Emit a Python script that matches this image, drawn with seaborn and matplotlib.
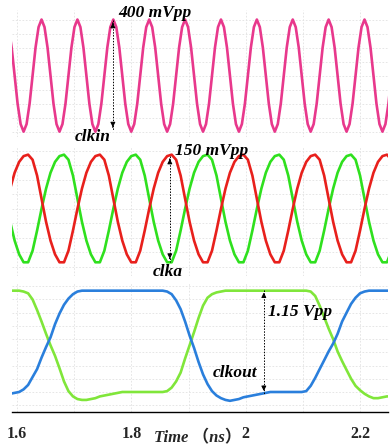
import matplotlib
matplotlib.use('Agg')
import matplotlib.pyplot as plt
from matplotlib.ticker import MultipleLocator
import pandas as pd
import seaborn as sns

# sample times (ns) for clkin, 12 samples per input clock period
clkin_time_ns = [1.5799, 1.5851, 1.5904, 1.5956, 1.6008, 1.6061, 1.6113, 1.6165, 1.6218, 1.6270, 1.6322, 1.6375,
                 1.6427, 1.6479, 1.6532, 1.6584, 1.6636, 1.6689, 1.6741, 1.6793, 1.6846, 1.6898, 1.6950, 1.7003,
                 1.7055, 1.7107, 1.7160, 1.7212, 1.7264, 1.7317, 1.7369, 1.7421, 1.7474, 1.7526, 1.7578, 1.7631,
                 1.7683, 1.7735, 1.7788, 1.7840, 1.7892, 1.7945, 1.7997, 1.8049, 1.8102, 1.8154, 1.8206, 1.8259,
                 1.8311, 1.8363, 1.8416, 1.8468, 1.8520, 1.8573, 1.8625, 1.8677, 1.8730, 1.8782, 1.8834, 1.8887,
                 1.8939, 1.8991, 1.9044, 1.9096, 1.9148, 1.9201, 1.9253, 1.9305, 1.9358, 1.9410, 1.9462, 1.9515,
                 1.9567, 1.9619, 1.9672, 1.9724, 1.9776, 1.9829, 1.9881, 1.9933, 1.9986, 2.0038, 2.0090, 2.0143,
                 2.0195, 2.0247, 2.0300, 2.0352, 2.0404, 2.0457, 2.0509, 2.0561, 2.0614, 2.0666, 2.0718, 2.0771,
                 2.0823, 2.0875, 2.0928, 2.0980, 2.1032, 2.1085, 2.1137, 2.1189, 2.1242, 2.1294, 2.1346, 2.1399,
                 2.1451, 2.1503, 2.1556, 2.1608, 2.1660, 2.1713, 2.1765, 2.1817, 2.1870, 2.1922, 2.1974, 2.2027,
                 2.2079, 2.2131, 2.2184, 2.2236, 2.2288, 2.2341, 2.2393, 2.2445, 2.2498, 2.2550]

# clkin, mV
clkin_mv = [200, 173, 100, 0, -100, -173, -200, -173, -100, 0, 100, 173,
            200, 173, 100, 0, -100, -173, -200, -173, -100, 0, 100, 173,
            200, 173, 100, 0, -100, -173, -200, -173, -100, 0, 100, 173,
            200, 173, 100, 0, -100, -173, -200, -173, -100, 0, 100, 173,
            200, 173, 100, 0, -100, -173, -200, -173, -100, 0, 100, 173,
            200, 173, 100, 0, -100, -173, -200, -173, -100, 0, 100, 173,
            200, 173, 100, 0, -100, -173, -200, -173, -100, 0, 100, 173,
            200, 173, 100, 0, -100, -173, -200, -173, -100, 0, 100, 173,
            200, 173, 100, 0, -100, -173, -200, -173, -100, 0, 100, 173,
            200, 173, 100, 0, -100, -173, -200, -173, -100, 0, 100, 173,
            200, 173, 100, 0, -100, -173, -200, -173, -100, 0]

# sample times (ns) for clka / clkout, 8 samples per input clock period
time_ns = [1.5799, 1.5878, 1.5956, 1.6035, 1.6113, 1.6192, 1.6270, 1.6349,
           1.6427, 1.6506, 1.6584, 1.6663, 1.6741, 1.6820, 1.6898, 1.6977,
           1.7055, 1.7134, 1.7212, 1.7291, 1.7369, 1.7448, 1.7526, 1.7605,
           1.7683, 1.7762, 1.7840, 1.7919, 1.7997, 1.8076, 1.8154, 1.8233,
           1.8311, 1.8390, 1.8468, 1.8547, 1.8625, 1.8704, 1.8782, 1.8861,
           1.8939, 1.9018, 1.9096, 1.9175, 1.9253, 1.9332, 1.9410, 1.9489,
           1.9567, 1.9646, 1.9724, 1.9803, 1.9881, 1.9960, 2.0038, 2.0117,
           2.0195, 2.0274, 2.0352, 2.0431, 2.0509, 2.0588, 2.0666, 2.0745,
           2.0823, 2.0902, 2.0980, 2.1059, 2.1137, 2.1216, 2.1294, 2.1373,
           2.1451, 2.1530, 2.1608, 2.1687, 2.1765, 2.1844, 2.1922, 2.2001,
           2.2079, 2.2158, 2.2236, 2.2315, 2.2393, 2.2472, 2.2550]

# clka pair, mV
clka_p_mv = [0, 28, 50, 65, 73, 75, 68, 46, 14, -18, -44, -63, -74, -74, -58, -30,
             0, 28, 50, 65, 73, 75, 68, 46, 14, -18, -44, -63, -74, -74, -58, -30,
             0, 28, 50, 65, 73, 75, 68, 46, 14, -18, -44, -63, -74, -74, -58, -30,
             0, 28, 50, 65, 73, 75, 68, 46, 14, -18, -44, -63, -74, -74, -58, -30,
             0, 28, 50, 65, 73, 75, 68, 46, 14, -18, -44, -63, -74, -74, -58, -30,
             0, 28, 50, 65, 73, 75, 68]
clka_n_mv = [14, -18, -44, -63, -74, -74, -58, -30, 0, 28, 50, 65, 73, 75, 68, 46,
             14, -18, -44, -63, -74, -74, -58, -30, 0, 28, 50, 65, 73, 75, 68, 46,
             14, -18, -44, -63, -74, -74, -58, -30, 0, 28, 50, 65, 73, 75, 68, 46,
             14, -18, -44, -63, -74, -74, -58, -30, 0, 28, 50, 65, 73, 75, 68, 46,
             14, -18, -44, -63, -74, -74, -58, -30, 0, 28, 50, 65, 73, 75, 68, 46,
             14, -18, -44, -63, -74, -74, -58]

# clkout pair, V
clkout_n_v = [1.15, 1.15, 1.15, 1.15, 1.14, 1.12, 1.05, 0.93,
              0.80, 0.66, 0.53, 0.41, 0.27, 0.12, 0.01, -0.05,
              -0.08, -0.09, -0.09, -0.08, -0.07, -0.05, -0.04, -0.03,
              -0.02, -0.01, 0.0, 0.0, 0.0, 0.0, 0.0, 0.0,
              0.0, 0.0, 0.0, 0.0, 0.01, 0.05, 0.12, 0.22,
              0.38, 0.53, 0.68, 0.84, 0.98, 1.07, 1.11, 1.13,
              1.14, 1.15, 1.15, 1.15, 1.15, 1.15, 1.15, 1.15,
              1.15, 1.15, 1.15, 1.15, 1.15, 1.15, 1.15, 1.15,
              1.15, 1.15, 1.15, 1.15, 1.14, 1.09, 0.98, 0.85,
              0.72, 0.60, 0.46, 0.35, 0.25, 0.15, 0.07, 0.02,
              -0.02, -0.05, -0.07, -0.07, -0.06, -0.05, -0.05]
clkout_p_v = [-0.02, -0.02, -0.01, 0.0, 0.03, 0.08, 0.17, 0.26,
              0.39, 0.51, 0.62, 0.77, 0.89, 0.99, 1.06, 1.11,
              1.14, 1.15, 1.15, 1.15, 1.15, 1.15, 1.15, 1.15,
              1.15, 1.15, 1.15, 1.15, 1.15, 1.15, 1.15, 1.15,
              1.15, 1.15, 1.15, 1.15, 1.14, 1.11, 1.04, 0.94,
              0.80, 0.64, 0.50, 0.34, 0.20, 0.09, 0.01, -0.04,
              -0.07, -0.09, -0.10, -0.09, -0.08, -0.06, -0.05, -0.04,
              -0.03, -0.02, -0.01, 0.0, 0.0, 0.0, 0.0, 0.0,
              0.0, 0.0, 0.0, 0.01, 0.07, 0.16, 0.26, 0.36,
              0.46, 0.55, 0.66, 0.80, 0.90, 1.00, 1.07, 1.12,
              1.14, 1.15, 1.15, 1.15, 1.15, 1.15, 1.15]

xtick_vals = [1.6, 1.8, 2.0, 2.2]
xtick_labels = ['1.6', '1.8', '2', '2.2']

sns.set_theme(style='white')
plt.rcParams['font.family'] = ['Liberation Serif', 'Noto Sans CJK SC', 'DejaVu Sans']

df_in = pd.DataFrame({'t': clkin_time_ns, 'clkin': clkin_mv})
df = pd.DataFrame({'t': time_ns, 'clka_p': clka_p_mv, 'clka_n': clka_n_mv,
                   'clkout_p': clkout_p_v, 'clkout_n': clkout_n_v})

LW = 1.9
line_kw = dict(lw=LW, solid_joinstyle='round', solid_capstyle='round')
label_font = dict(fontsize=12.5, fontweight='bold', fontstyle='italic', color='black')


def style_panel(ax, ylim, ystep):
    ax.set_xlim(1.591, 2.249)
    ax.set_ylim(*ylim)
    ax.xaxis.set_major_locator(MultipleLocator(0.2))
    ax.xaxis.set_minor_locator(MultipleLocator(0.1))
    ax.yaxis.set_major_locator(MultipleLocator(ystep))
    ax.grid(True, which='both', color='#e2e2e2', lw=0.6, ls=(0, (2, 2)))
    ax.tick_params(axis='both', which='both', length=0, labelbottom=False, labelleft=False)
    for s in ax.spines.values():
        s.set_visible(False)
    ax.set_xlabel('')
    ax.set_ylabel('')


def vpp_arrow(ax, x, y_top, y_bot, head):
    ax.plot([x, x], [y_top, y_bot], color='black', lw=0.7, ls=(0, (1.5, 1.5)))
    ax.annotate('', xy=(x, y_top), xytext=(x, y_top - head),
                arrowprops=dict(arrowstyle='-|>', color='black', lw=0.7, mutation_scale=7))
    ax.annotate('', xy=(x, y_bot), xytext=(x, y_bot + head),
                arrowprops=dict(arrowstyle='-|>', color='black', lw=0.7, mutation_scale=7))


fig = plt.figure(figsize=(3.92, 4.46), dpi=100)
left, width = 12 / 392, 376 / 392

# top: clkin
ax1 = fig.add_axes([left, 1 - 137 / 446, width, 127 / 446])
sns.lineplot(data=df_in, x='t', y='clkin', ax=ax1, color='#e8388c', **line_kw)
style_panel(ax1, (-219, 234), 50)
vpp_arrow(ax1, 1.7675, 198, -194, 20)
ax1.text(1.7762, 223, '400 mVpp', ha='left', va='center', clip_on=False, **label_font)
ax1.text(1.7325, -219, 'clkin', ha='center', va='center', clip_on=False, **label_font)

# middle: clka
ax2 = fig.add_axes([left, 1 - 276 / 446, width, 130 / 446])
sns.lineplot(data=df, x='t', y='clka_n', ax=ax2, color='#2fe01e', **line_kw)
sns.lineplot(data=df, x='t', y='clka_p', ax=ax2, color='#e8201c', **line_kw)
style_panel(ax2, (-93, 87), 20)
vpp_arrow(ax2, 1.8672, 73, -73, 8)
ax2.text(1.876, 80, '150 mVpp', ha='left', va='center', clip_on=False, **label_font)
ax2.text(1.8628, -87, 'clka', ha='center', va='center', clip_on=False, **label_font)

# bottom: clkout
ax3 = fig.add_axes([left, 1 - 412 / 446, width, 129 / 446])
sns.lineplot(data=df, x='t', y='clkout_n', ax=ax3, color='#80e63a', **line_kw)
sns.lineplot(data=df, x='t', y='clkout_p', ax=ax3, color='#2a7fdc', **line_kw)
style_panel(ax3, (-0.227, 1.237), 0.15)
vpp_arrow(ax3, 2.0317, 1.16, -0.02, 0.12)
ax3.text(2.0387, 0.91, '1.15 Vpp', ha='left', va='center', **label_font)
ax3.text(1.981, 0.22, 'clkout', ha='center', va='center', **label_font)

ax3.spines['bottom'].set_visible(True)
ax3.spines['bottom'].set_color('black')
ax3.spines['bottom'].set_linewidth(1.0)
ax3.set_xticks(xtick_vals)
ax3.set_xticklabels(xtick_labels)
ax3.tick_params(axis='x', which='major', length=8, width=1, color='black', direction='out',
                labelbottom=True, pad=2, labelsize=11.5)
for lab in ax3.get_xticklabels():
    lab.set_fontweight('bold')

fig.text(198 / 392, 1 - 438 / 446, 'Time （ns）', ha='center', va='center',
         fontsize=12, fontweight='bold', fontstyle='italic')

fig.savefig('out.png', dpi=100, facecolor='white')
